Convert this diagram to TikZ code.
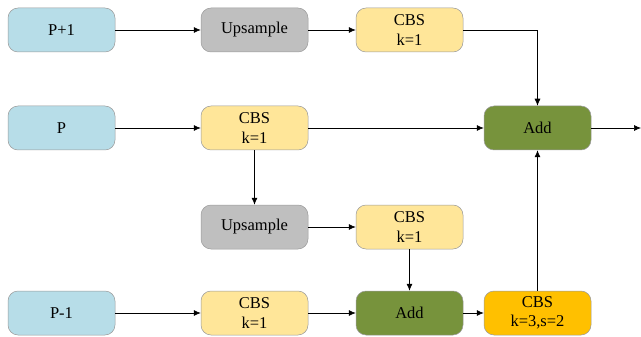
\documentclass[tikz,border=0pt]{standalone}
\usepackage{fontspec}
\setmainfont{Liberation Serif}
\usetikzlibrary{arrows.meta}
\definecolor{cblue}{HTML}{B7DDE8}
\definecolor{cgray}{HTML}{BFBFBF}
\definecolor{cyel}{HTML}{FFE699}
\definecolor{cgreen}{HTML}{77933C}
\definecolor{corange}{HTML}{FFC000}
\definecolor{cborder}{HTML}{9A9A9A}
\begin{document}
\begin{tikzpicture}[x=1pt,y=-1pt,
  box/.style={draw=cborder, line width=0.5pt, rounded corners=10pt, minimum width=107pt, minimum height=44pt, inner sep=0pt, align=center, font=\fontsize{16.5}{19.5}\selectfont},
  inbox/.style={box, fill=cblue},
  upbox/.style={box, fill=cgray},
  cbsbox/.style={box, fill=cyel},
  addbox/.style={box, fill=cgreen},
  cbs3box/.style={box, fill=corange},
  arr/.style={-{Latex[length=7pt,width=6pt]}, line width=0.7pt}]
\useasboundingbox (0,0) rectangle (641,337);
\node[inbox] (p1) at (61.5,30) {P+1};
\node[upbox] (up1) at (254.5,30) {Upsample};
\node[cbsbox] (cbs1) at (409.5,30) {CBS\\k=1};
\node[inbox] (p) at (61.5,128) {P};
\node[cbsbox] (cbs2) at (254.5,128) {CBS\\k=1};
\node[addbox] (add1) at (537.5,128) {Add};
\node[upbox] (up2) at (254.5,227) {Upsample};
\node[cbsbox] (cbs3) at (409.5,227) {CBS\\k=1};
\node[inbox] (pm1) at (61.5,313) {P-1};
\node[cbsbox] (cbs4) at (254.5,313) {CBS\\k=1};
\node[addbox] (add2) at (409.5,313) {Add};
\node[cbs3box] (cbs5) at (537.5,313) {CBS\\k=3,s=2};
\coordinate (out) at (641,128);
\draw[arr] (p1) -- (up1);
\draw[arr] (up1) -- (cbs1);
\draw[arr] (cbs1.east) -| (add1.north);
\draw[arr] (p) -- (cbs2);
\draw[arr] (cbs2) -- (add1);
\draw[arr] (add1) -- (out);
\draw[arr] (cbs2) -- (up2);
\draw[arr] (up2) -- (cbs3);
\draw[arr] (cbs3) -- (add2);
\draw[arr] (pm1) -- (cbs4);
\draw[arr] (cbs4) -- (add2);
\draw[arr] (add2) -- (cbs5);
\draw[arr] (cbs5) -- (add1);
\end{tikzpicture}
\end{document}
